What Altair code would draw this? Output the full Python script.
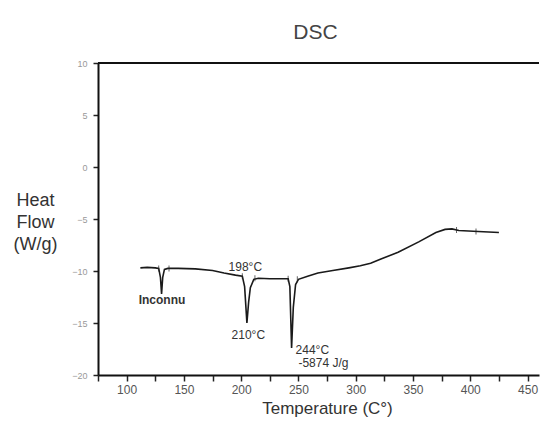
import altair as alt
import pandas as pd

# DSC curve (temperature in °C, heat flow in W/g)
temperature = [112, 118, 125, 128, 129.5, 130.5, 131.5, 133, 136, 145, 160, 175, 185, 195, 201,
               203, 205, 206.5, 208, 211, 215, 225, 235, 241, 242.5, 244, 245.5, 247.5, 250,
               258, 267, 280, 294, 304, 313, 322, 337, 355, 370, 378, 384, 390, 407, 425]
heat_flow = [-9.7, -9.65, -9.7, -9.75, -10.6, -12.2, -10.6, -9.85, -9.75, -9.75, -9.8, -9.95, -10.2, -10.4, -10.5,
             -11.5, -15.0, -13.0, -11.6, -10.8, -10.7, -10.75, -10.75, -10.75, -11.5, -17.4, -13.5, -11.3, -10.8,
             -10.5, -10.2, -9.95, -9.7, -9.5, -9.25, -8.85, -8.2, -7.2, -6.3, -6.0, -5.95, -6.1, -6.2, -6.3]

# small marker ticks on the curve
marker_t = [128, 137, 201, 212, 241, 249, 388, 405]
marker_hf = [-9.75, -9.75, -10.5, -10.7, -10.75, -10.8, -6.05, -6.2]

# annotations
ann_labels = ["198°C", "210°C", "244°C", "-5874 J/g"]
ann_t = [189, 191.6, 247.5, 250]
ann_hf = [-9.6, -16.15, -17.6, -18.85]
unk_label = ["Inconnu"]
unk_t = [110.5]
unk_hf = [-12.8]

x_major = [100, 150, 200, 250, 300, 350, 400, 450]
x_minor = [75, 125, 175, 225, 275, 325, 375, 425]
y_ticks = [10, 7.5, 5, 2.5, 0, -2.5, -5, -7.5, -10, -12.5, -15, -17.5, -20]

df = pd.DataFrame({"T": temperature, "HF": heat_flow})
mdf = pd.DataFrame({"T": marker_t, "HF": marker_hf})
adf = pd.DataFrame({"T": ann_t, "HF": ann_hf, "label": ann_labels})
udf = pd.DataFrame({"T": unk_t, "HF": unk_hf, "label": unk_label})
tdf = pd.DataFrame({"v": [10]})

x_scale = alt.Scale(domain=[75, 460], nice=False, zero=False)
y_scale = alt.Scale(domain=[-20, 10], nice=False, zero=False)

x_axis = alt.Axis(
    values=x_major,
    orient="bottom",
    labelOverlap=False, labelFlush=False,
    title="Temperature (C°)",
    titleFontSize=17, titleFont="Liberation Sans", titleFontWeight="normal", titleColor="#333",
    titleX=229, titleY=38, titleAlign="center", titleBaseline="alphabetic",
    labelFontSize=12, labelColor="#555", labelFont="Liberation Sans", labelPadding=3,
    tickSize=6, tickWidth=1.5, tickColor="#222",
    domainColor="#111", domainWidth=2,
)
x_minor_axis = alt.Axis(
    values=x_minor, orient="bottom", labels=False, domain=False, title=None,
    tickSize=6, tickWidth=1.5, tickColor="#222",
)
y_axis = alt.Axis(
    values=y_ticks,
    labelExpr="datum.value % 5 == 0 ? datum.label : ''",
    labelOverlap=False,
    title=["Heat", "Flow", "(W/g)"],
    titleAngle=0, titleFontSize=18, titleFont="Liberation Sans", titleFontWeight="normal",
    titleColor="#333", titleX=-63, titleY=142, titleAlign="center", titleBaseline="alphabetic",
    titleLineHeight=22,
    labelFontSize=9, labelColor="#999", labelFont="Liberation Sans", labelPadding=6,
    tickSize=5, tickWidth=1.5, tickColor="#222",
    domainColor="#111", domainWidth=2,
)

line = alt.Chart(df).mark_line(color="#1a1a1a", strokeWidth=1.6).encode(
    x=alt.X("T:Q", scale=x_scale, axis=x_axis),
    y=alt.Y("HF:Q", scale=y_scale, axis=y_axis),
)
marks = alt.Chart(mdf).mark_tick(color="#222", orient="vertical", size=6, thickness=1).encode(
    x=alt.X("T:Q", scale=x_scale, axis=x_minor_axis), y=alt.Y("HF:Q", scale=y_scale)
)
ann = alt.Chart(adf).mark_text(align="left", baseline="middle", font="Liberation Sans",
                               fontSize=12, color="#333").encode(
    x=alt.X("T:Q", scale=x_scale, axis=None), y=alt.Y("HF:Q", scale=y_scale), text="label:N"
)
unk = alt.Chart(udf).mark_text(align="left", baseline="middle", font="Liberation Sans",
                               fontSize=12, fontWeight="bold", color="#333").encode(
    x=alt.X("T:Q", scale=x_scale, axis=None), y=alt.Y("HF:Q", scale=y_scale), text="label:N"
)
top = alt.Chart(tdf).mark_rule(color="#111", strokeWidth=2).encode(
    y=alt.Y("v:Q", scale=y_scale)
)

chart = alt.layer(line, marks, ann, unk, top).resolve_axis(x="independent").properties(
    width=441, height=312,
    title=alt.TitleParams(text="DSC", anchor="middle", dx=-3, dy=26, offset=25, baseline="alphabetic",
                          fontSize=21, font="Liberation Sans", fontWeight="normal", color="#444"),
    padding={"left": 90, "top": 55, "right": 2, "bottom": 42},
    autosize=alt.AutoSizeParams(type="none"),
).configure_view(stroke=None).configure_axis(grid=False)

chart.save("out.html", embed_options={"renderer": "svg", "actions": False})
